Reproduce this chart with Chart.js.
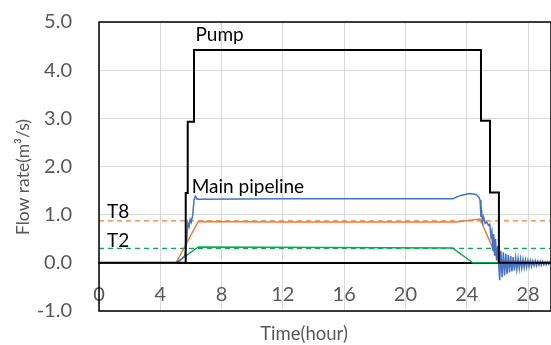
<!DOCTYPE html>
<html>
<head>
<meta charset="utf-8">
<script src="https://cdn.jsdelivr.net/npm/chart.js@4/dist/chart.umd.min.js"></script>
<style>
  html, body { margin: 0; padding: 0; background: #fff; }
</style>
</head>
<body>
<canvas id="flow_chart" width="551" height="345"></canvas>
<script>
// tick labels
const xTicks = [0, 4, 8, 12, 16, 20, 24, 28]
const yTicks = [-1, 0, 1, 2, 3, 4, 5]

// pump (black step line)
const pumpTime = [0, 5.66, 5.66, 5.79, 5.79, 6.2, 6.2, 24.93, 24.93, 25.52, 25.52, 26.1, 26.1, 29.5]
const pumpFlow = [0, 0, 1.45, 1.45, 2.93, 2.93, 4.42, 4.42, 2.95, 2.95, 1.46, 1.46, 0, 0]

// main pipeline (blue)
const mainTime = [0, 5.0, 5.3, 5.6, 5.72, 5.8, 5.88, 5.95, 6.02, 6.12, 6.2, 6.28, 6.4, 12, 23.1, 23.6, 24.2, 24.6, 24.8,
  24.87, 24.93, 24.98, 25.03, 25.1, 25.2, 25.3, 25.42, 25.5, 25.58, 25.64, 25.7, 25.76, 25.82, 25.88, 25.95, 26.02, 26.1,
  26.15, 26.23, 26.31, 26.39, 26.47, 26.55, 26.63, 26.71, 26.79, 26.87, 26.95, 27.03, 27.11, 27.19, 27.27, 27.35,
  27.43, 27.51, 27.59, 27.67, 27.75, 27.83, 27.91, 27.99, 28.07, 28.15, 28.23, 28.31, 28.39, 28.47, 28.55, 28.63,
  28.71, 28.79, 28.87, 28.95, 29.03, 29.11, 29.19, 29.27, 29.35, 29.43, 29.5]
const mainFlow = [0, 0, 0.05, 0.15, 0.45, 0.83, 0.75, 0.9, 0.84, 1.0, 1.3, 1.38, 1.32, 1.33, 1.33, 1.4, 1.44, 1.42, 1.36,
  1.3, 0.95, 1.05, 0.85, 0.95, 0.82, 0.85, 0.78, 0.8, 0.55, 0.65, 0.25, 0.6, 0.15, 0.5, 0.05, 0.35, -0.1,
  -0.36, 0.25, -0.30, 0.22, -0.26, 0.19, -0.23, 0.16, -0.20, 0.14, -0.18, 0.12, -0.16, 0.10, -0.14, 0.09,
  -0.12, 0.08, -0.11, 0.07, -0.10, 0.06, -0.09, 0.05, -0.08, 0.05, -0.07, 0.04, -0.06, 0.04, -0.06, 0.03,
  -0.05, 0.03, -0.05, 0.03, -0.04, 0.02, -0.04, 0.02, -0.03, 0.02, -0.03]

// T8 (orange)
const t8Time = [0, 5.03, 6.48, 12, 23.3, 24.87, 24.95, 25.0, 25.1, 26.12, 29.5]
const t8Flow = [0, 0, 0.86, 0.85, 0.85, 0.91, 0.84, 0.86, 0.74, 0, 0]

// T2 (green)
const t2Time = [0, 5.03, 6.48, 23.06, 24.4, 29.5]
const t2Flow = [0, 0, 0.33, 0.31, 0, 0]

// dashed reference levels
const levelTime = [0, 29.5]
const t8Level = [0.87, 0.87]
const t2Level = [0.30, 0.30]

const notes = ['Pump', 'Main pipeline', 'T8', 'T2']

const zip = (xs, ys) => xs.map((x, i) => ({ x: x, y: ys[i] }))
const FONT = 'Lato'

const line = (data, color, width, dash) => ({
  data: data,
  borderColor: color,
  borderWidth: width,
  borderDash: dash || [],
  pointRadius: 0,
  tension: 0,
  fill: false,
})

const noPadding = (s) => {
  s.paddingTop = 0
  s.paddingBottom = 0
  s.paddingLeft = 0
  s.paddingRight = 0
}

// frame, axis titles and series labels
const frameAndLabels = {
  id: 'frameAndLabels',
  afterDraw(chart) {
    const { ctx, chartArea: a, scales } = chart
    const px = (v) => scales.x.getPixelForValue(v)
    const py = (v) => scales.y.getPixelForValue(v)
    ctx.save()
    ctx.strokeStyle = '#000'
    ctx.lineWidth = 1.5
    ctx.strokeRect(a.left, a.top, a.right - a.left, a.bottom - a.top)

    ctx.fillStyle = '#000'
    ctx.font = '19px ' + FONT
    ctx.textBaseline = 'alphabetic'
    ctx.textAlign = 'left'
    ctx.fillText(notes[0], px(6.3), py(4.6))
    ctx.fillText(notes[1], px(6.05), py(1.46))
    ctx.fillText(notes[2], px(0.52), py(0.94))
    ctx.fillText(notes[3], px(0.52), py(0.33))

    ctx.fillStyle = '#595959'
    ctx.font = '18.5px ' + FONT
    ctx.textAlign = 'center'
    ctx.textBaseline = 'middle'
    ctx.fillText('Time(hour)', 304, 334)
    ctx.font = '17.5px ' + FONT
    ctx.translate(23, 177)
    ctx.rotate(-Math.PI / 2)
    ctx.fillText('Flow rate(m³/s)', 0, 0)
    ctx.restore()
  },
}

new Chart(document.getElementById('flow_chart').getContext('2d'), {
  type: 'line',
  data: {
    datasets: [
      line(zip(pumpTime, pumpFlow), '#000000', 2),
      line(zip(mainTime, mainFlow), '#4472C4', 1.5),
      line(zip(t8Time, t8Flow), '#ED7D31', 1.5),
      line(zip(t2Time, t2Flow), '#00B050', 1.5),
      line(zip(levelTime, t8Level), '#ED7D31', 1.3, [5, 4]),
      line(zip(levelTime, t2Level), '#00B050', 1.3, [5, 4]),
    ],
  },
  options: {
    responsive: false,
    animation: false,
    events: [],
    layout: { padding: { top: 22, right: 0, bottom: 34, left: 0 } },
    plugins: {
      legend: { display: false },
      tooltip: { enabled: false },
    },
    scales: {
      x: {
        type: 'linear',
        min: 0,
        max: 29.5,
        position: { y: 0 },
        afterBuildTicks: (s) => { s.ticks = xTicks.map((v) => ({ value: v })) },
        afterFit: (s) => { s.height = 0; noPadding(s) },
        grid: { color: '#d9d9d9', lineWidth: 1, drawTicks: false },
        border: { display: true, color: '#000', width: 2 },
        ticks: {
          color: '#595959',
          font: { family: FONT, size: 20 },
          padding: 20,
          maxRotation: 0,
          autoSkip: false,
        },
      },
      y: {
        type: 'linear',
        min: -1,
        max: 5,
        afterBuildTicks: (s) => { s.ticks = yTicks.map((v) => ({ value: v })) },
        afterFit: (s) => { s.width = 99; noPadding(s) },
        grid: { color: '#d9d9d9', lineWidth: 1, drawTicks: false },
        border: { display: false },
        ticks: {
          color: '#595959',
          font: { family: FONT, size: 20 },
          padding: 27,
          callback: (v) => v.toFixed(1),
        },
      },
    },
  },
  plugins: [frameAndLabels],
})
</script>
</body>
</html>
